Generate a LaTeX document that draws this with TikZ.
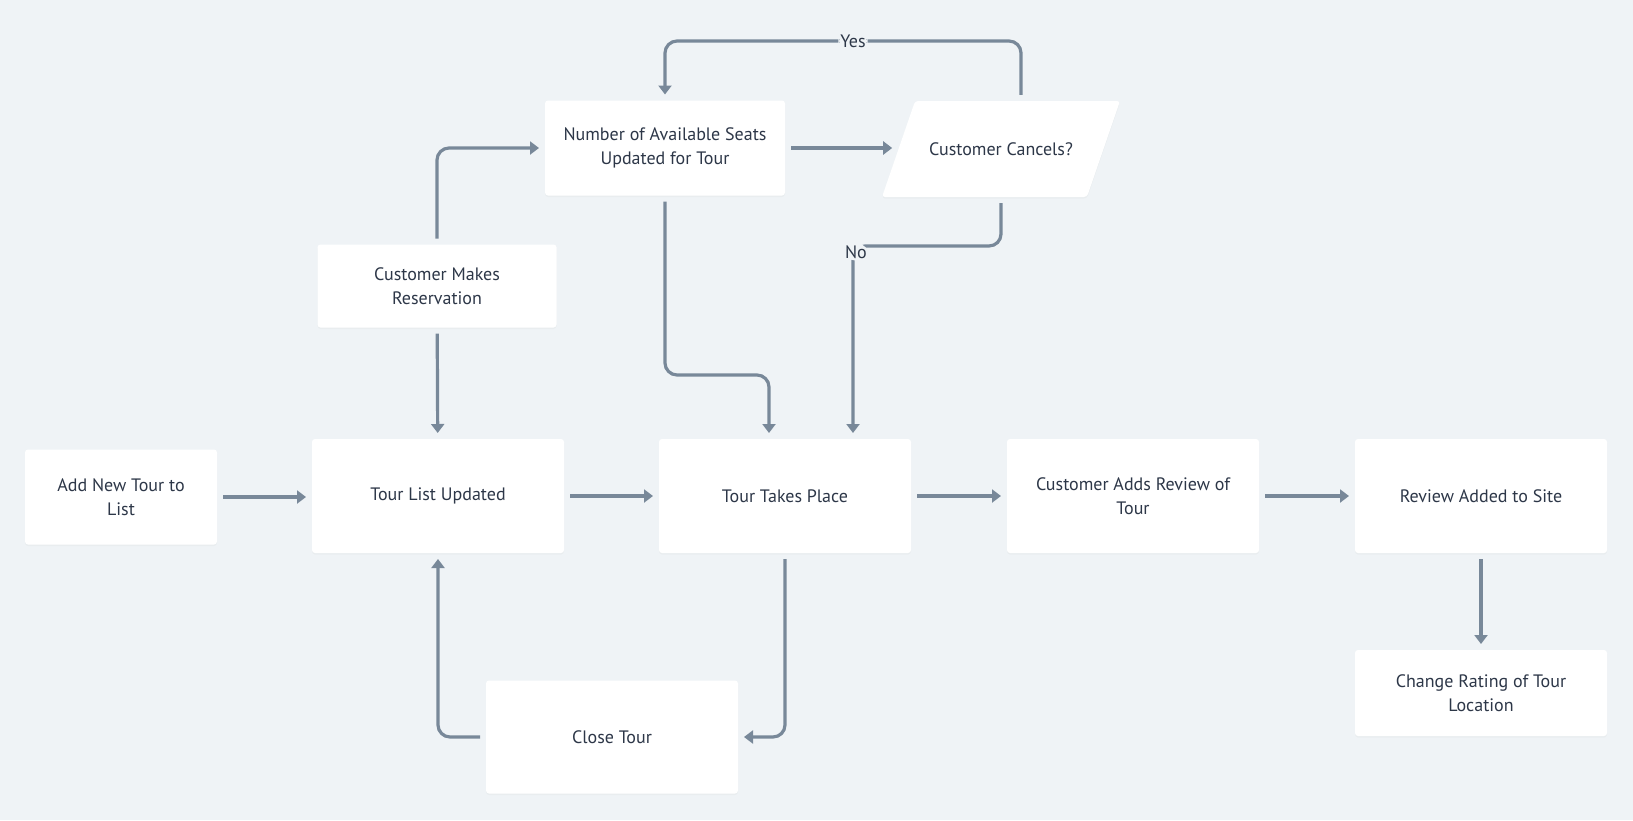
\documentclass[tikz,border=0pt]{standalone}
\usepackage{fontspec}
\setmainfont{PT Sans}
\usetikzlibrary{arrows.meta, shapes.geometric, shadows}

\definecolor{canvas}{RGB}{239,243,246}
\definecolor{wire}{RGB}{120,136,153}
\definecolor{ink}{RGB}{45,55,72}

\tikzset{
  stepbox/.style={rectangle, rounded corners=3pt, fill=white, inner sep=0pt, outer sep=6pt,
    minimum width=252pt, minimum height=114pt, align=center, text=ink,
    font=\fontsize{18}{24}\selectfont,
    drop shadow={shadow xshift=0pt, shadow yshift=-1.5pt, opacity=0.05}},
  askbox/.style={stepbox, trapezium, trapezium left angle=71, trapezium right angle=109,
    trapezium stretches body=true, minimum width=238pt, minimum height=0pt,
    text height=13pt, text depth=0pt, inner ysep=41.5pt},
  flow/.style={draw=wire, line width=3.2pt, rounded corners=12pt,
    -{Triangle[length=9pt,width=13pt]}},
  lbl/.style={fill=canvas, text=ink, inner sep=2pt, font=\fontsize{18}{20}\selectfont}
}

\begin{document}
\begin{tikzpicture}[x=1pt, y=-1pt]
        \fill[canvas] (0,0) rectangle (1633,820);
        % boxes
        \node[stepbox, minimum width=192pt, minimum height=95pt] (addtour) at (121,497) {Add New Tour to\\List};
        \node[stepbox] (tlu) at (438,496) {Tour List Updated};
        \node[stepbox] (ttp) at (785,496) {Tour Takes Place};
        \node[stepbox] (review) at (1133,496) {Customer Adds Review of\\Tour};
        \node[stepbox] (ras) at (1481,496) {Review Added to Site};
        \node[stepbox, minimum height=86pt] (rating) at (1481,693) {Change Rating of Tour\\Location};
        \node[stepbox, minimum height=113pt] (close) at (612,737) {Close Tour};
        \node[stepbox, minimum width=239pt, minimum height=83pt] (resv) at (437,286) {Customer Makes\\Reservation};
        \node[stepbox, minimum width=240pt, minimum height=95pt] (seats) at (665,148) {Number of Available Seats\\Updated for Tour};
        \node[askbox] (cancel) at (1001,149) {Customer Cancels?};
        % turning points
        \coordinate (yesturn) at (853,41);
        \coordinate (noturn) at (853,246);
        \coordinate (seatjog) at (769,375);
        % connectors
        \draw[flow] (addtour.east) -- (addtour.east -| tlu.west);
        \draw[flow] (tlu) -- (ttp);
        \draw[flow] (ttp) -- (review);
        \draw[flow] (review) -- (ras);
        \draw[flow] (ras) -- (rating);
        \draw[flow] (resv) -- (tlu);
        \draw[flow] (resv.north) |- (seats.west);
        \draw[flow] (seats.east) -- (seats.east -| cancel.west);
        \draw[flow] ([xshift=20pt]cancel.north) |- (yesturn) node[lbl] {Yes} -| (seats.north);
        \draw[flow] (cancel.south) |- (noturn) node[lbl, xshift=3pt, yshift=-6pt] {No} -- (noturn |- ttp.north);
        \draw[flow] (seats.south) |- (seatjog) -- (seatjog |- ttp.north);
        \draw[flow] (ttp.south) |- (close.east);
        \draw[flow] (close.west) -| (tlu.south);
\end{tikzpicture}
\end{document}
